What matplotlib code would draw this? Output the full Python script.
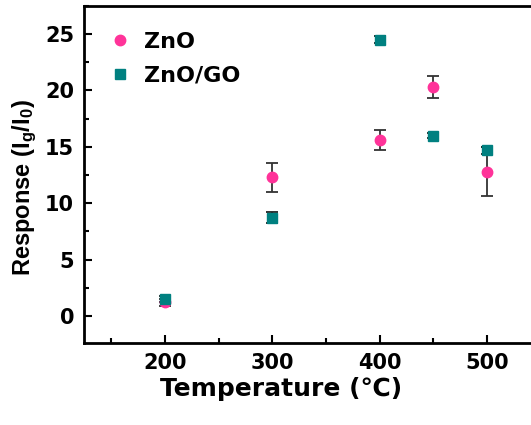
import numpy as np
import matplotlib.pyplot as plt
from matplotlib.lines import Line2D
from matplotlib.ticker import MultipleLocator

plt.rcParams['font.family'] = ['DejaVu Sans']
plt.rcParams['font.weight'] = 'bold'
plt.rcParams['mathtext.fontset'] = 'custom'
plt.rcParams['mathtext.bf'] = 'Liberation Sans:bold'
plt.rcParams['mathtext.rm'] = 'Liberation Sans:bold'
plt.rcParams['mathtext.default'] = 'bf'

# Data
temps = [200, 300, 400, 450, 500]
zno = [1.2, 12.3, 15.6, 20.3, 12.8]
zno_err = [0.3, 1.3, 0.9, 1.0, 2.2]
zno_go = [1.5, 8.7, 24.5, 16.0, 14.7]
zno_go_err = [0.3, 0.5, 0.3, 0.25, 0.3]

pink = '#ff3399'
teal = '#008080'

fig = plt.figure(figsize=(5.31, 4.25), dpi=100)
ax = fig.add_axes([0.158, 0.193, 0.86, 0.793])

ax.errorbar(temps, zno, yerr=zno_err, fmt='o', color=pink, ms=7.5,
            ecolor='#333333', elinewidth=1.3, capsize=4, capthick=1.3, zorder=3)
ax.errorbar(temps, zno_go, yerr=zno_go_err, fmt='s', color=teal, ms=7,
            ecolor='#222222', elinewidth=1.3, capsize=4, capthick=1.3, zorder=3)

ax.set_xlim(124.3, 550)
ax.set_ylim(-2.4, 27.5)
ax.xaxis.set_major_locator(MultipleLocator(100))
ax.xaxis.set_minor_locator(MultipleLocator(50))
ax.yaxis.set_major_locator(MultipleLocator(5))
ax.yaxis.set_minor_locator(MultipleLocator(2.5))
ax.tick_params(which='both', direction='in', width=1.5, labelsize=15)
ax.tick_params(which='major', length=6, pad=7)
ax.tick_params(which='minor', length=3.5)
for s in ax.spines.values():
    s.set_linewidth(2)

ax.set_xlabel('Temperature (℃)', fontsize=18, fontweight='bold')
ax.xaxis.set_label_coords(0.432, -0.1)
ax.set_ylabel('Response (I$_g$/I$_0$)', fontsize=17, fontweight='bold',
              family=['Liberation Sans', 'DejaVu Sans'])
ax.yaxis.set_label_coords(-0.098, 0.46)

handles = [Line2D([], [], ls='', marker='o', color=pink, ms=7.5),
           Line2D([], [], ls='', marker='s', color=teal, ms=6.5)]
ax.legend(handles, ['ZnO', 'ZnO/GO'], loc='upper left', frameon=False,
          fontsize=16, handlelength=1.0, handletextpad=0.6,
          borderaxespad=0.6, labelspacing=0.62, bbox_to_anchor=(0.005, 0.99))

fig.savefig('out.png', dpi=100, facecolor='white')
